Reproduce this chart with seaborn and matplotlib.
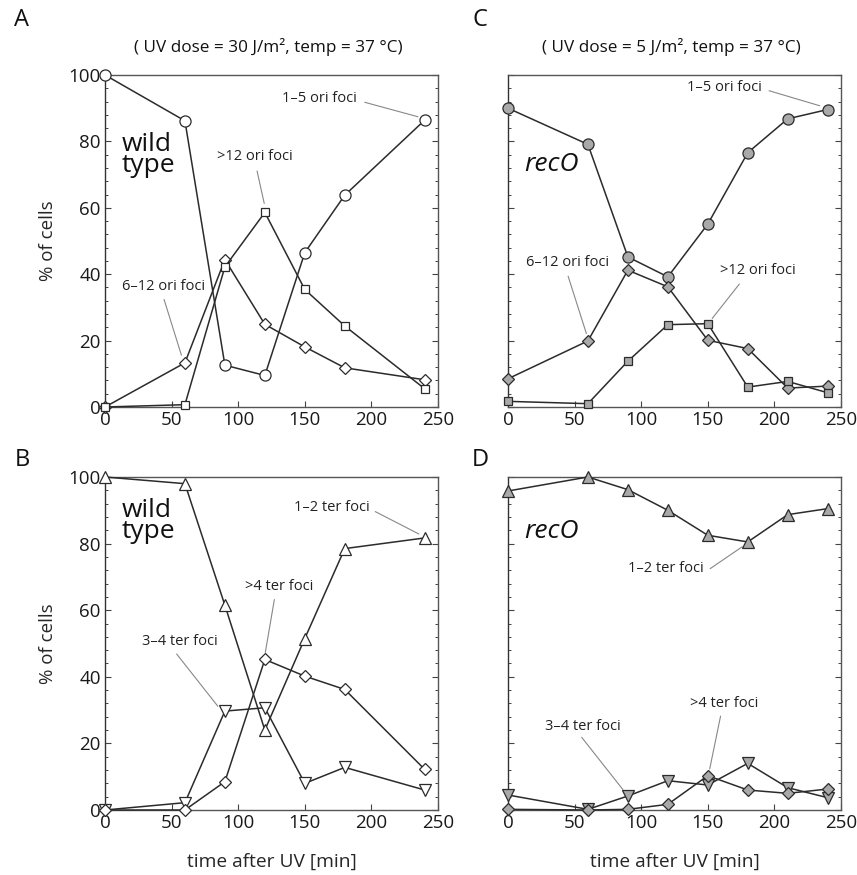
import matplotlib
matplotlib.use("Agg")
import matplotlib.pyplot as plt
import seaborn as sns
import pandas as pd
from matplotlib.ticker import MultipleLocator

sns.set_theme(style="white")
plt.rcParams['font.family'] = ['Open Sans', 'DejaVu Sans']

# ---------------- data ----------------
t_wt = [0, 60, 90, 120, 150, 180, 240]
t_rec = [0, 60, 90, 120, 150, 180, 210, 240]

# Panel A: wild type, ori foci (UV 30 J/m2)
a_ori_1_5 = [100, 86.2, 12.6, 9.5, 46.5, 63.8, 86.4]
a_ori_6_12 = [0, 13.3, 44.4, 24.9, 18.1, 11.8, 8.2]
a_ori_gt12 = [0, 0.7, 42.2, 58.6, 35.4, 24.4, 5.5]

# Panel C: recO, ori foci (UV 5 J/m2)
c_ori_1_5 = [90.0, 79.1, 45.2, 39.2, 55.1, 76.6, 86.8, 89.6]
c_ori_6_12 = [8.5, 19.9, 41.2, 36.2, 20.1, 17.6, 5.7, 6.3]
c_ori_gt12 = [1.7, 1.0, 13.8, 24.8, 25.1, 6.0, 7.7, 4.3]

# Panel B: wild type, ter foci
b_ter_1_2 = [100, 98, 61.5, 24, 51.5, 78.5, 81.7]
b_ter_3_4 = [0, 2.2, 29.7, 30.7, 8, 12.8, 6]
b_ter_gt4 = [0, 0, 8.5, 45.2, 40.2, 36.2, 12.2]

# Panel D: recO, ter foci
d_ter_1_2 = [95.8, 100, 96.2, 90, 82.5, 80.5, 88.7, 90.5]
d_ter_3_4 = [4.5, 0.2, 4.2, 8.8, 7.5, 14, 6.7, 3.7]
d_ter_gt4 = [0.2, 0, 0.2, 1.7, 10.3, 6, 5, 6.3]

x_ticks = [0, 50, 100, 150, 200, 250]
y_ticks = [0, 20, 40, 60, 80, 100]

# ---------------- figure ----------------
W, H = 857, 875
fig = plt.figure(figsize=(W / 100, H / 100), dpi=100)

def ax_at(x0, y0, x1, y1):
    return fig.add_axes([x0 / W, 1 - y1 / H, (x1 - x0) / W, (y1 - y0) / H])

axA = ax_at(105, 75, 438, 407)
axC = ax_at(508, 75, 841, 407)
axB = ax_at(105, 477, 438, 810)
axD = ax_at(508, 477, 841, 810)

LINE = "#2b2b2b"
EDGE = "#2b2b2b"

def series(ax, t, y, marker, ms, fill):
    df = pd.DataFrame({"t": t, "v": y})
    sns.lineplot(data=df, x="t", y="v", ax=ax, sort=False, color=LINE, lw=1.1,
                 marker=marker, markersize=ms, markerfacecolor=fill,
                 markeredgecolor=EDGE, markeredgewidth=0.9, clip_on=False, zorder=3)

def style(ax, ylabels):
    ax.set_xlim(0, 250)
    ax.set_ylim(0, 100)
    ax.set_xticks(x_ticks)
    ax.set_yticks(y_ticks)
    ax.yaxis.set_minor_locator(MultipleLocator(4))
    ax.tick_params(axis="both", which="major", direction="in", length=4.5, width=0.8,
                   color="#444444", labelsize=13.5, pad=3, labelcolor="#1a1a1a")
    ax.tick_params(axis="y", which="both", left=True, right=True, direction="in")
    ax.tick_params(axis="y", which="minor", length=2.5, width=0.7, color="#444444")
    ax.tick_params(axis="x", which="both", bottom=True, top=False)
    if not ylabels:
        ax.set_yticklabels([])
    for s in ax.spines.values():
        s.set_color("#555555")
        s.set_linewidth(1.0)
    ax.spines["left"].set_color("#333333")
    ax.set_xlabel("")
    ax.set_ylabel("")

def note(ax, text, txy, start, end):
    ax.text(txy[0], txy[1], text, fontsize=10.5, ha="center", va="center", color="#222222", zorder=5)
    ax.annotate("", xy=end, xytext=start,
                arrowprops=dict(arrowstyle="-", color="#888888", lw=0.8), zorder=2)

OPEN = "white"
GRAY = "#a9a9a9"

# Panel A
series(axA, t_wt, a_ori_1_5, "o", 8, OPEN)
series(axA, t_wt, a_ori_6_12, "D", 6.5, OPEN)
series(axA, t_wt, a_ori_gt12, "s", 6, OPEN)
style(axA, True)
note(axA, "1\u20135 ori foci", (161, 92.8), (193, 92), (237, 87.2))
note(axA, ">12 ori foci", (112.5, 75.4), (113.7, 71.9), (120, 60.5))
note(axA, "6\u201312 ori foci", (43.7, 36.4), (43.7, 33.2), (58, 14.8))
axA.text(12.5, 76, "wild\ntype", fontsize=19, ha="left", va="center", linespacing=0.8, color="#111111")

# Panel C
series(axC, t_rec, c_ori_1_5, "o", 8, GRAY)
series(axC, t_rec, c_ori_6_12, "D", 6.5, GRAY)
series(axC, t_rec, c_ori_gt12, "s", 6, GRAY)
style(axC, False)
note(axC, "1\u20135 ori foci", (162.5, 96.2), (194, 95.5), (236, 90.5))
note(axC, "6\u201312 ori foci", (44.5, 43.4), (44.5, 40.2), (59.5, 21.3))
note(axC, ">12 ori foci", (187.5, 41), (175, 37.7), (152, 26))
axC.text(12.5, 73, "recO", fontsize=19, style="italic", ha="left", va="center", color="#111111")

# Panel B
series(axB, t_wt, b_ter_1_2, "^", 8, OPEN)
series(axB, t_wt, b_ter_3_4, "v", 8, OPEN)
series(axB, t_wt, b_ter_gt4, "D", 6.5, OPEN)
style(axB, True)
note(axB, "1\u20132 ter foci", (170, 90.8), (201, 90), (237.5, 82.5))
note(axB, ">4 ter foci", (131, 67), (127.5, 64), (120, 46.5))
note(axB, "3\u20134 ter foci", (56, 50.7), (52.5, 47.5), (86, 30.5))
axB.text(12.5, 86.8, "wild\ntype", fontsize=19, ha="left", va="center", linespacing=0.8, color="#111111")

# Panel D
series(axD, t_rec, d_ter_1_2, "^", 8, GRAY)
series(axD, t_rec, d_ter_3_4, "v", 8, GRAY)
series(axD, t_rec, d_ter_gt4, "D", 6.5, GRAY)
style(axD, False)
note(axD, "1\u20132 ter foci", (118.7, 72.5), (150, 72), (177.5, 79.5))
note(axD, ">4 ter foci", (162, 32), (160, 29), (151, 11.5))
note(axD, "3\u20134 ter foci", (56, 25.2), (54, 22.5), (87.5, 5.5))
axD.text(12.5, 83.5, "recO", fontsize=19, style="italic", ha="left", va="center", color="#111111")

# axis labels
for ax in (axA, axB):
    ax.set_ylabel("% of cells", fontsize=13.5, labelpad=8)
for ax in (axB, axD):
    ax.set_xlabel("time after UV [min]", fontsize=13.8, labelpad=15)

# titles
fig.text(268 / W, 1 - 47 / H, "( UV dose = 30 J/m\u00b2, temp = 37 \u00b0C)", fontsize=12.3,
         ha="center", va="center", color="#111111")
fig.text(671 / W, 1 - 47 / H, "( UV dose = 5 J/m\u00b2, temp = 37 \u00b0C)", fontsize=12.3,
         ha="center", va="center", color="#111111")

# panel letters
for lab, x, y in (("A", 22, 20), ("C", 480, 20), ("B", 22, 460), ("D", 480, 460)):
    fig.text(x / W, 1 - y / H, lab, fontsize=17, ha="center", va="center", color="#111111")

fig.savefig("out.png", dpi=100, facecolor="white")
